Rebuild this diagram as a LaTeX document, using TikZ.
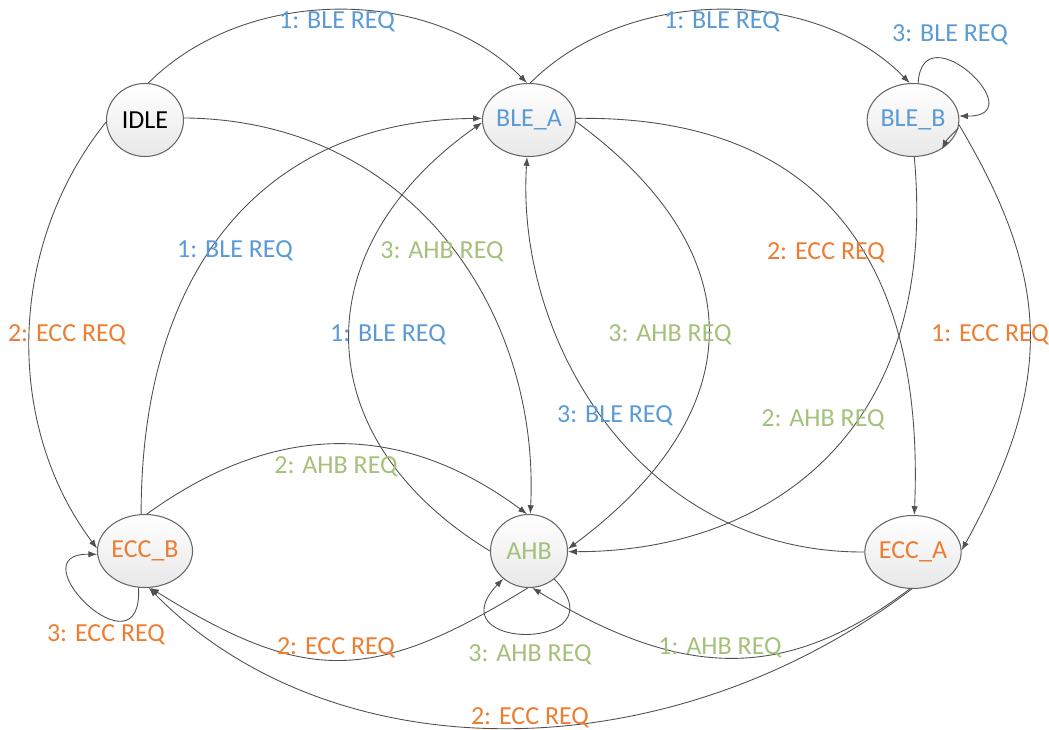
\documentclass[tikz,border=0pt]{standalone}
\usepackage{fontspec}
\setmainfont{Carlito}
\usetikzlibrary{arrows.meta,shapes.geometric}
\definecolor{bleblue}{HTML}{5B9BD5}
\definecolor{eccorange}{HTML}{ED7D31}
\definecolor{ahbgreen}{HTML}{A4C17A}
\definecolor{edgegray}{HTML}{505050}
\begin{document}
\begin{tikzpicture}[x=0.02cm,y=-0.02cm,
  state/.style={ellipse, draw=black!60, line width=0.6pt, top color=white, bottom color=black!9,
    minimum width=1.54cm, minimum height=1.46cm, inner sep=0pt, font=\fontsize{14.8}{17}\selectfont},
  edge/.style={draw=edgegray, line width=0.5pt, -{Latex[length=5pt,width=3.6pt]}},
  lbl/.style={font=\fontsize{14.8}{17}\selectfont, inner sep=1pt}]
\useasboundingbox (0,0) rectangle (1049,730);

% states
\node[state] (idle) at (145,120) {IDLE};
\node[state, text=bleblue] (blea) at (529,120) {BLE\_A};
\node[state, text=bleblue] (bleb) at (913,120) {BLE\_B};
\node[state, text=eccorange] (eccb) at (145,551) {ECC\_B};
\node[state, text=ahbgreen] (ahb) at (529,551) {AHB};
\node[state, text=eccorange] (ecca) at (913,552) {ECC\_A};

% transitions
\draw[edge] (idle.85) .. controls (245,-14) and (430,-15) .. (blea.93);
\draw[edge] (blea.88) .. controls (627,-14) and (814,-15) .. (bleb.95);
\draw[edge] (bleb.82) .. controls (922,10) and (1035,117) .. (bleb.5);
\draw[edge] (bleb.-10) .. controls (953,134) and (947,139) .. (bleb.-45);
\draw[edge] (idle.183) .. controls (6,247) and (5,426) .. (eccb.177);
\draw[edge] (idle.3) .. controls (413,120) and (540,313) .. (ahb.88);
\draw[edge] (eccb.96) .. controls (141,264) and (268,120) .. (blea.178);
\draw[edge] (eccb.87) .. controls (274,422) and (400,420) .. (ahb.93);
\draw[edge] (eccb.-100) .. controls (143,680) and (15,553) .. (eccb.184);
\draw[edge] (ahb.180) .. controls (306,439) and (302,249) .. (blea.183);
\draw[edge] (ahb.-92) .. controls (372,684) and (305,684) .. (eccb.-82);
\draw[edge] (ecca.-92) .. controls (668,774) and (333,775) .. (eccb.-84);
\draw[edge] (ecca.-95) .. controls (787,681) and (685,681) .. (ahb.-85);
\draw[edge] (ahb.-48) .. controls (624,652) and (433,652) .. (ahb.-133);
\draw[edge] (blea.-2) .. controls (753,251) and (755,410) .. (ahb.3);
\draw[edge] (bleb.-88) .. controls (940,440) and (760,552) .. (ahb.-1);
\draw[edge] (bleb.-6) .. controls (1052,281) and (1054,383) .. (ecca.2);
\draw[edge] (blea.2) .. controls (820,115) and (925,260) .. (ecca.88);
\draw[edge] (ecca.180) .. controls (640,553) and (515,340) .. (blea.-93);

% labels
\node[lbl, text=bleblue] (l1) at (337,22) {1: BLE REQ};
\node[lbl, text=bleblue] (l2) at (722,22) {1: BLE REQ};
\node[lbl, text=bleblue] (l3) at (950,35) {3: BLE REQ};
\node[lbl, text=bleblue] (l4) at (235,251) {1: BLE REQ};
\node[lbl, text=ahbgreen] (l5) at (442,252) {3: AHB REQ};
\node[lbl, text=eccorange] (l6) at (67,335) {2: ECC REQ};
\node[lbl, text=bleblue] (l7) at (388,335) {1: BLE REQ};
\node[lbl, text=ahbgreen] (l8) at (670,335) {3: AHB REQ};
\node[lbl, text=eccorange] (l9) at (826,253) {2: ECC REQ};
\node[lbl, text=eccorange] (l10) at (990,335) {1: ECC REQ};
\node[lbl, text=bleblue] (l11) at (615,416) {3: BLE REQ};
\node[lbl, text=ahbgreen] (l12) at (823,420) {2: AHB REQ};
\node[lbl, text=ahbgreen] (l13) at (336,467) {2: AHB REQ};
\node[lbl, text=eccorange] (l14) at (336,648) {2: ECC REQ};
\node[lbl, text=ahbgreen] (l15) at (530,655) {3: AHB REQ};
\node[lbl, text=ahbgreen] (l16) at (720,648) {1: AHB REQ};
\node[lbl, text=eccorange] (l17) at (530,718) {2: ECC REQ};
\node[lbl, text=eccorange] (l18) at (106,635) {3: ECC REQ};
\end{tikzpicture}
\end{document}
